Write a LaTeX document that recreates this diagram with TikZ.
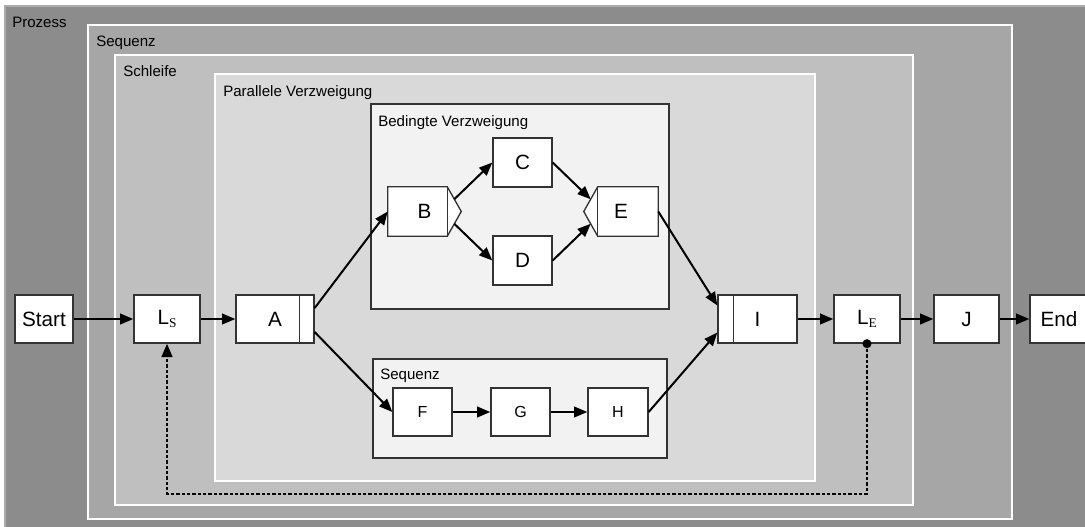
\documentclass[tikz,border=0pt]{standalone}
\usepackage{fontspec}
\setmainfont{Liberation Sans}
\newfontfamily\subfont{Liberation Serif}
\usetikzlibrary{arrows.meta,calc}

\definecolor{prozessgray}{HTML}{8C8C8C}
\definecolor{sequenzgray}{HTML}{A6A6A6}
\definecolor{schleifegray}{HTML}{BFBFBF}
\definecolor{parallelgray}{HTML}{D9D9D9}
\definecolor{bedingtgray}{HTML}{F2F2F2}
\definecolor{boxline}{HTML}{333333}
\definecolor{prozessedge}{HTML}{ABABAB}

\pgfdeclarelayer{bg}
\pgfdeclarelayer{mid}
\pgfsetlayers{bg,mid,main}

\tikzset{
  frame/.style={fill=#1, draw=white, line width=1.5pt},
  inner frame/.style={fill=bedingtgray, draw=boxline, line width=0.8pt},
  grouplabel/.style={anchor=base west, inner sep=0pt, font=\fontsize{11.3}{13}\selectfont},
  task/.style={draw=boxline, fill=white, line width=1pt, inner sep=0pt,
    minimum height=48*0.75pt, font=\fontsize{15.5}{18}\selectfont},
  small task/.style={task, font=\fontsize{12}{14}\selectfont},
  shaped task/.style={inner sep=0pt, minimum height=49*0.75pt, font=\fontsize{15.5}{18}\selectfont},
  shape fill/.style={draw=boxline, fill=white, line width=1pt, line join=miter},
  divider/.style={draw=boxline, line width=1pt},
  flow/.style={line width=1.5pt, -{Triangle[length=10pt,width=8pt]}},
  loopback/.style={line width=1.6pt, dash pattern=on 2.4pt off 1.6pt,
    -{Triangle[length=10pt,width=8pt]}},
}
\newcommand\loopmark[1]{L\raisebox{-1.8pt}{\subfont\fontsize{10}{11}\selectfont #1}}

\begin{document}
\begin{tikzpicture}[x=0.75pt,y=-0.75pt]
\useasboundingbox (0,0) rectangle (1085,526);

% nested containers
\begin{pgfonlayer}{bg}
  \fill[white] (0,0) rectangle (1085,526);
  \filldraw[fill=prozessgray, draw=prozessedge, line width=0.8pt] (5,6) rectangle (1095,535);
  \filldraw[frame=sequenzgray] (88,25) rectangle (1011.5,519);
  \filldraw[frame=schleifegray] (115,55) rectangle (913,505);
  \filldraw[frame=parallelgray] (215,74) rectangle (815,481);
  \filldraw[inner frame] (371,104) rectangle (669,309);
  \filldraw[inner frame] (373,359) rectangle (667,458);
\end{pgfonlayer}

\node[grouplabel] (lbl-prozess) at (12,27) {Prozess};
\node[grouplabel] (lbl-sequenz) at (96,46) {Sequenz};
\node[grouplabel] (lbl-schleife) at (123,76) {Schleife};
\node[grouplabel] (lbl-parallel) at (223,96) {Parallele Verzweigung};
\node[grouplabel] (lbl-bedingt) at (378,126) {Bedingte Verzweigung};
\node[grouplabel] (lbl-innerseq) at (380,379) {Sequenz};

% main row
\node[task, minimum width=58*0.75pt] (start) at (44,319) {Start};
\node[task, minimum width=66*0.75pt] (ls) at (167,319) {\loopmark{S}};
\node[task, minimum width=78*0.75pt] (a) at (275,319) {A};
\draw[divider] ($(a.north east)+(-15,0)$) -- ($(a.south east)+(-15,0)$);
\node[task, minimum width=79*0.75pt] (i) at (757.5,319) {I};
\draw[divider] ($(i.north west)+(16,0)$) -- ($(i.south west)+(16,0)$);
\node[task, minimum width=66*0.75pt] (le) at (867,319) {\loopmark{E}};
\node[task, minimum width=65*0.75pt] (j) at (966.5,319) {J};
\node[task, minimum width=58*0.75pt] (end) at (1059,319) {End};

% conditional branch
\node[shaped task, minimum width=73*0.75pt] (b) at (424.5,211.5) {B};
\node[task, minimum width=59*0.75pt, minimum height=49*0.75pt] (c) at (522.5,162.5) {C};
\node[task, minimum width=59*0.75pt, minimum height=49*0.75pt] (d) at (522.5,260.5) {D};
\node[shaped task, minimum width=74*0.75pt] (e) at (621,211.5) {E};
\begin{pgfonlayer}{mid}
  \filldraw[shape fill] (b.north west) -- ($(b.north east)+(-14,0)$) -- (b.east)
    -- ($(b.south east)+(-14,0)$) -- (b.south west) -- cycle;
  \draw[divider] ($(b.north east)+(-14,0)$) -- ($(b.south east)+(-14,0)$);
  \filldraw[shape fill] (e.north east) -- ($(e.north west)+(14,0)$) -- (e.west)
    -- ($(e.south west)+(14,0)$) -- (e.south east) -- cycle;
  \draw[divider] ($(e.north west)+(14,0)$) -- ($(e.south west)+(14,0)$);
\end{pgfonlayer}

% sequence branch
\node[small task, minimum width=59*0.75pt] (f) at (422.5,412) {F};
\node[small task, minimum width=59*0.75pt] (g) at (520.5,412) {G};
\node[small task, minimum width=60*0.75pt] (h) at (618,412) {H};

% connectors
\draw[flow] (start) -- (ls);
\draw[flow] (ls) -- (a);
\draw[flow] ($(a.east)+(0,-11)$) -- (b.west);
\draw[flow] ($(a.east)+(0,13)$) -- (f.west);
\draw[flow] ($(b.east)+(-7,-12.25)$) -- (c.west);
\draw[flow] ($(b.east)+(-7,12.25)$) -- (d.west);
\draw[flow] (c.east) -- ($(e.west)+(7,-12.25)$);
\draw[flow] (d.east) -- ($(e.west)+(7,12.25)$);
\draw[flow] (f) -- (g);
\draw[flow] (g) -- (h);
\draw[flow] (e.east) -- ($(i.west)+(0,-13.5)$);
\draw[flow] (h.east) -- ($(i.west)+(0,13.5)$);
\draw[flow] (i) -- (le);
\draw[flow] (le) -- (j);
\draw[flow] (j) -- (end);

% loop back edge
\fill (le.south) circle (3.4pt);
\draw[loopback] (le.south) -- ++(0,150) -| (ls.south);
\end{tikzpicture}
\end{document}
